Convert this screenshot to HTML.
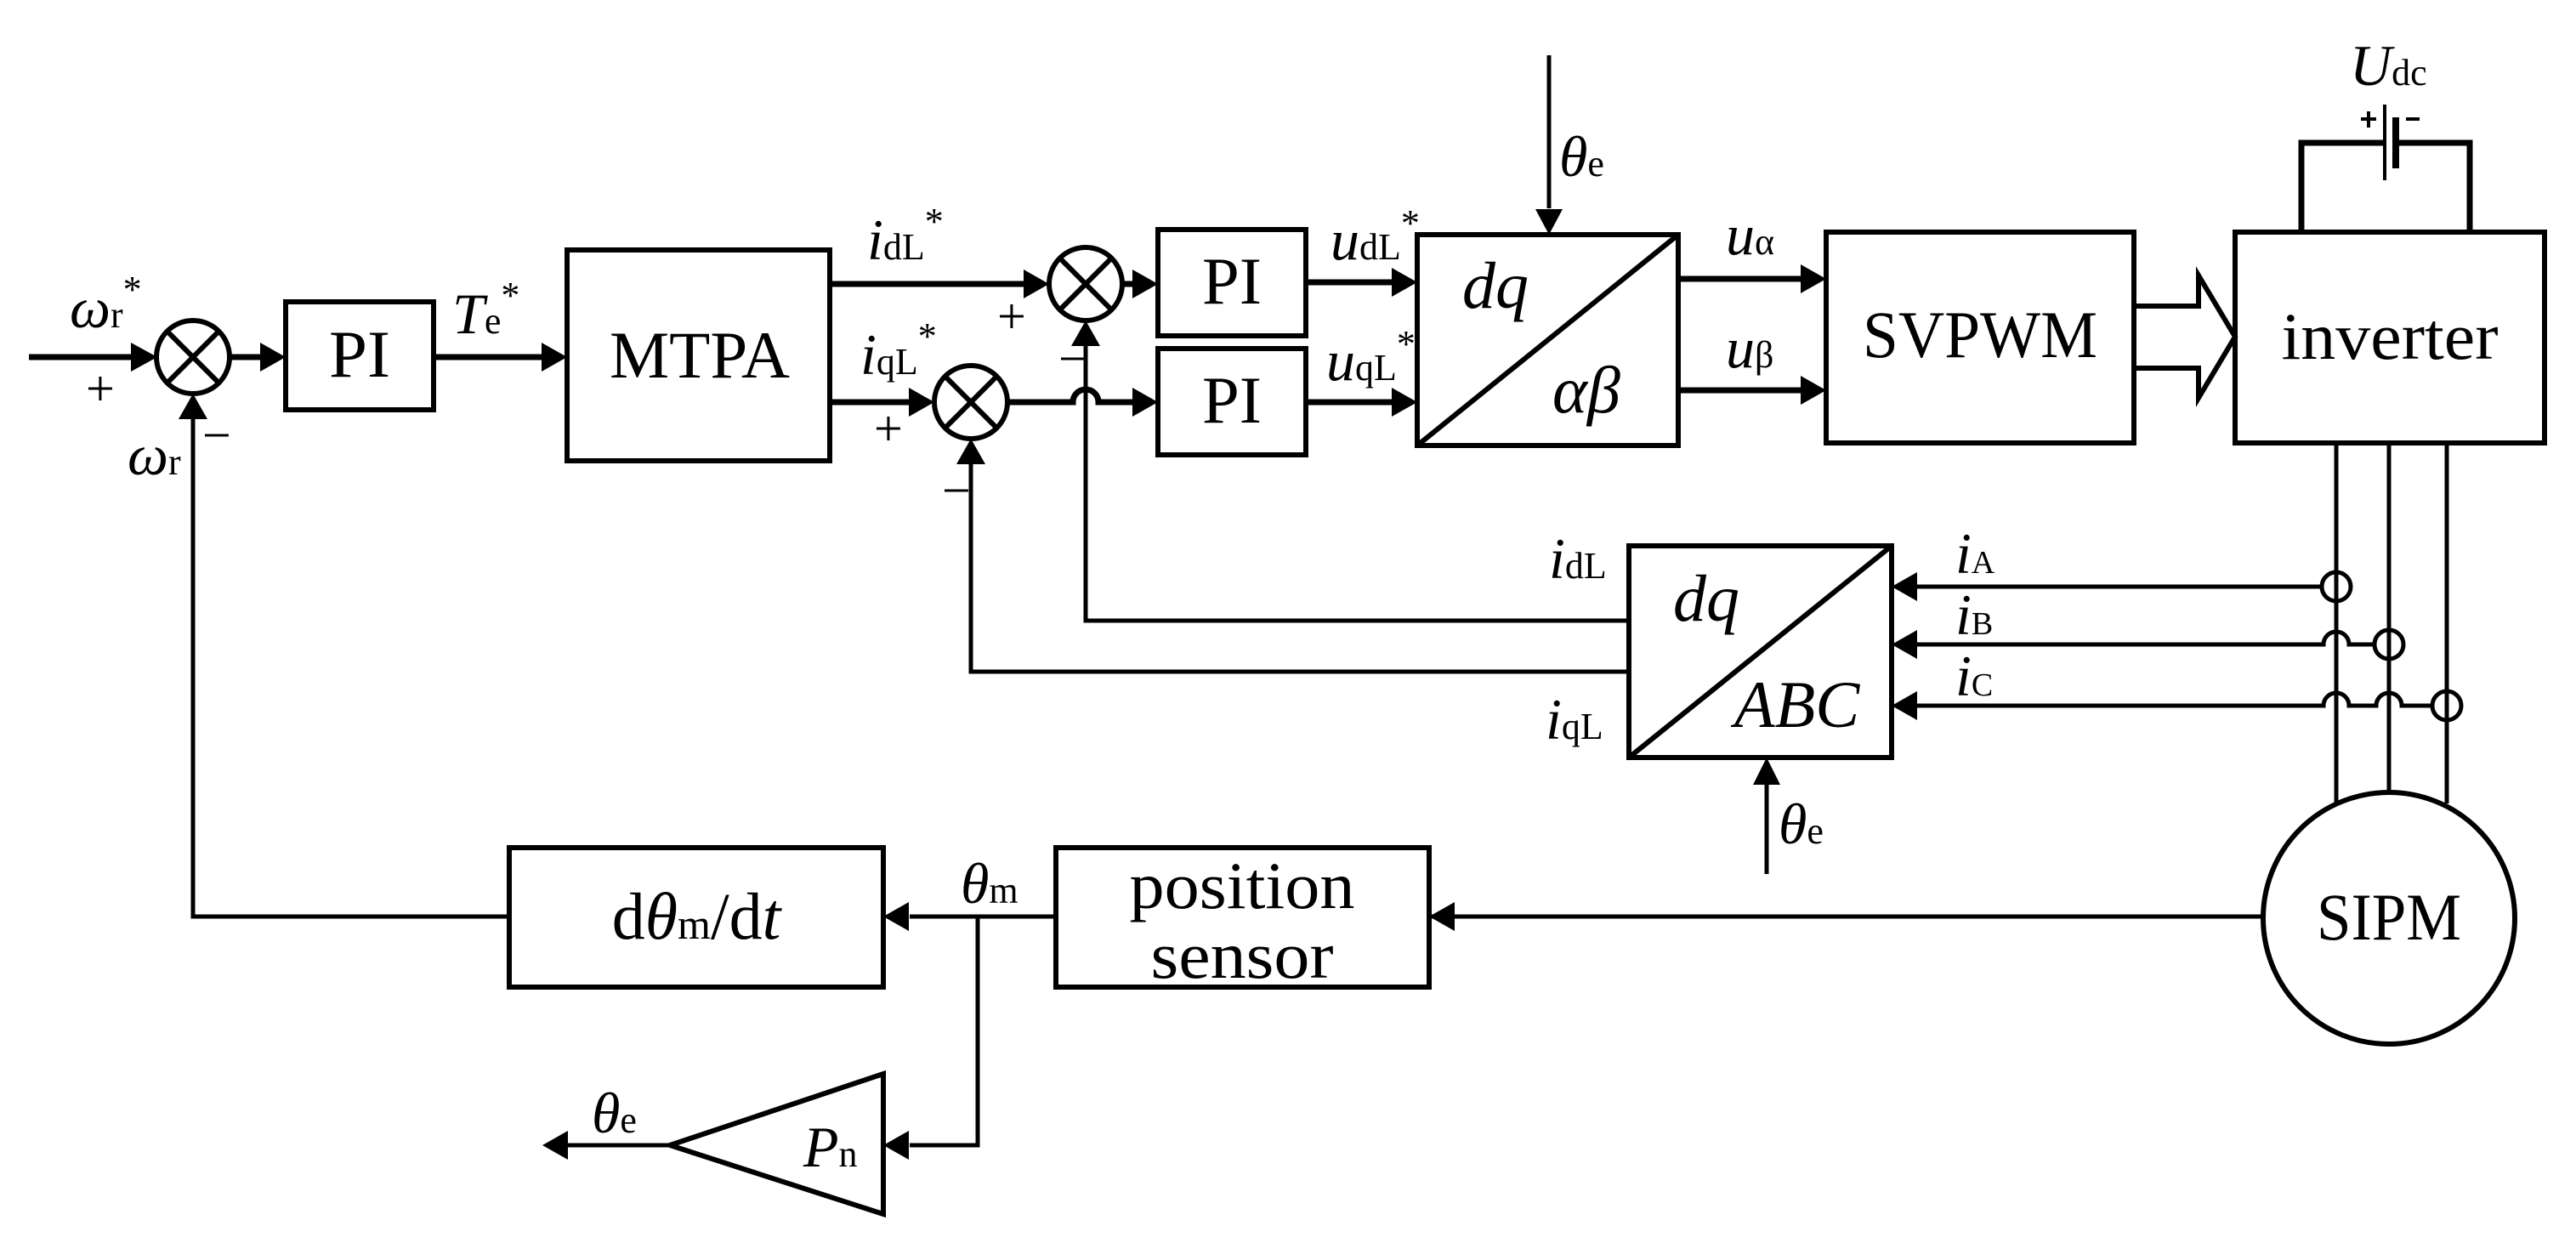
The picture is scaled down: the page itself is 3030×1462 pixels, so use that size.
<!DOCTYPE html>
<html><head><meta charset="utf-8"><style>
html,body{margin:0;padding:0;background:#fff;}
svg{display:block}
text{font-family:"Liberation Serif",serif;fill:#000}
.i{font-style:italic}
</style></head><body>
<svg width="3030" height="1462" viewBox="0 0 3030 1462" xmlns="http://www.w3.org/2000/svg">
<g fill="none" stroke="#000" stroke-width="6">
<rect x="336" y="355" width="174" height="127"/>
<rect x="667" y="294" width="309" height="248"/>
<rect x="1362" y="270" width="174" height="125"/>
<rect x="1362" y="410" width="174" height="125"/>
<rect x="1667" y="276" width="307" height="248"/>
<line x1="1667" y1="524" x2="1974" y2="276"/>
<rect x="2148" y="273" width="362" height="248"/>
<rect x="2629" y="273" width="364" height="248"/>
<rect x="1916" y="642" width="309" height="249"/>
<line x1="1916" y1="891" x2="2225" y2="642"/>
<rect x="599" y="997" width="440" height="164"/>
<rect x="1242" y="997" width="439" height="164"/>
<circle cx="2810" cy="1080" r="148"/>
<polygon points="1039,1263 1039,1428 788,1347"/>
<g>
<circle cx="227" cy="420" r="43"/><line x1="197" y1="390" x2="257" y2="450"/><line x1="257" y1="390" x2="197" y2="450"/>
<circle cx="1277" cy="334" r="43"/><line x1="1247" y1="304" x2="1307" y2="364"/><line x1="1307" y1="304" x2="1247" y2="364"/>
<circle cx="1142" cy="473" r="43"/><line x1="1112" y1="443" x2="1172" y2="503"/><line x1="1172" y1="443" x2="1112" y2="503"/>
</g>
</g>
<g fill="none" stroke="#000" stroke-width="7">
<line x1="34" y1="420" x2="170" y2="420"/>
<line x1="270" y1="420" x2="310" y2="420"/>
<line x1="510" y1="420" x2="640" y2="420"/>
<line x1="976" y1="334" x2="1210" y2="334"/>
<line x1="976" y1="473" x2="1075" y2="473"/>
<line x1="1320" y1="334" x2="1335" y2="334"/>
<path d="M1185 473 H1262 A15 15 0 0 1 1292 473 H1335"/>
<line x1="1536" y1="332" x2="1640" y2="332"/>
<line x1="1536" y1="473" x2="1640" y2="473"/>
<line x1="1974" y1="328" x2="2120" y2="328"/>
<line x1="1974" y1="459" x2="2120" y2="459"/>
<polyline points="2510,360 2586,360 2586,324 2629,396 2586,468 2586,433 2510,433" stroke-width="6"/>
<polyline points="2707,273 2707,168 2805,168"/>
<polyline points="2818,168 2905,168 2905,273"/>
</g>
<g fill="none" stroke="#000" stroke-width="5">
<line x1="1822" y1="65" x2="1822" y2="245"/>
<polyline points="227,470 227,1078 599,1078"/>
<polyline points="1277,390 1277,730 1916,730"/>
<polyline points="1142,530 1142,790 1916,790"/>
<line x1="2078" y1="1028" x2="2078" y2="920"/>
<line x1="1681" y1="1078" x2="2662" y2="1078"/>
<line x1="1242" y1="1078" x2="1070" y2="1078"/>
<polyline points="1150,1078 1150,1347 1070,1347"/>
<line x1="788" y1="1347" x2="665" y2="1347"/>
<line x1="2748" y1="521" x2="2748" y2="945"/>
<line x1="2810" y1="521" x2="2810" y2="932"/>
<line x1="2878" y1="521" x2="2878" y2="945"/>
<line x1="2255" y1="690" x2="2731" y2="690"/>
<path d="M2255 758 H2733 A15 15 0 0 1 2763 758 H2793"/>
<path d="M2255 830 H2733 A15 15 0 0 1 2763 830 H2795 A15 15 0 0 1 2825 830 H2861"/>
<circle cx="2748" cy="690" r="17"/>
<circle cx="2810" cy="758" r="17"/>
<circle cx="2878" cy="830" r="17"/>
<line x1="2805" y1="123" x2="2805" y2="212" stroke-width="4"/>
<line x1="2818" y1="138" x2="2818" y2="198" stroke-width="8"/>
<line x1="2777" y1="140" x2="2795" y2="140" stroke-width="4"/>
<line x1="2786" y1="131" x2="2786" y2="150" stroke-width="4"/>
<line x1="2830" y1="140" x2="2846" y2="140" stroke-width="4"/>
</g>
<g fill="#000">
<polygon points="185,420 154,403 154,437"/>
<polygon points="336,420 306,403 306,437"/>
<polygon points="667,420 637,403 637,437"/>
<polygon points="1234,334 1204,317 1204,351"/>
<polygon points="1362,334 1332,317 1332,351"/>
<polygon points="1099,473 1069,456 1069,490"/>
<polygon points="1362,473 1332,456 1332,490"/>
<polygon points="227,463 210,493 244,493"/>
<polygon points="1277,377 1260,407 1294,407"/>
<polygon points="1142,516 1125,546 1159,546"/>
<polygon points="1667,332 1637,315 1637,349"/>
<polygon points="1667,473 1637,456 1637,490"/>
<polygon points="1822,276 1806,246 1838,246"/>
<polygon points="2148,328 2118,311 2118,345"/>
<polygon points="2148,459 2118,442 2118,476"/>
<polygon points="2225,690 2255,673 2255,707"/>
<polygon points="2225,758 2255,741 2255,775"/>
<polygon points="2225,830 2255,813 2255,847"/>
<polygon points="2078,891 2062,923 2094,923"/>
<polygon points="1681,1078 1711,1061 1711,1095"/>
<polygon points="1039,1078 1069,1061 1069,1095"/>
<polygon points="1039,1347 1069,1330 1069,1364"/>
<polygon points="638,1347 668,1330 668,1364"/>
</g>
<g font-size="78">
<text x="423" y="443" text-anchor="middle" textLength="72" lengthAdjust="spacingAndGlyphs">PI</text>
<text x="823" y="444" text-anchor="middle" textLength="212" lengthAdjust="spacingAndGlyphs">MTPA</text>
<text x="1449" y="357" text-anchor="middle" textLength="70" lengthAdjust="spacingAndGlyphs">PI</text>
<text x="1449" y="497" text-anchor="middle" textLength="70" lengthAdjust="spacingAndGlyphs">PI</text>
<text x="2329" y="420" text-anchor="middle" textLength="276" lengthAdjust="spacingAndGlyphs">SVPWM</text>
<text x="2811" y="422" text-anchor="middle" textLength="255" lengthAdjust="spacingAndGlyphs">inverter</text>
<text x="2810" y="1105" text-anchor="middle" textLength="170" lengthAdjust="spacingAndGlyphs">SIPM</text>
<text x="1461" y="1068" text-anchor="middle" textLength="265" lengthAdjust="spacingAndGlyphs">position</text>
<text x="1461" y="1150" text-anchor="middle" textLength="215" lengthAdjust="spacingAndGlyphs">sensor</text>
<text x="819" y="1104" text-anchor="middle">d<tspan class="i">θ</tspan><tspan font-size="50">m</tspan>/d<tspan class="i">t</tspan></text>
<text x="1720" y="362" class="i">dq</text>
<text x="1826" y="485" class="i">αβ</text>
<text x="1968" y="730" class="i">dq</text>
<text x="2040" y="855" class="i">ABC</text>
</g>
<g font-size="68">
<text x="82" y="385"><tspan class="i">ω</tspan><tspan font-size="44">r</tspan><tspan font-size="44" dy="-30">*</tspan></text>
<text x="150" y="558"><tspan class="i">ω</tspan><tspan font-size="44">r</tspan></text>
<text x="532" y="392"><tspan class="i">T</tspan><tspan font-size="44">e</tspan><tspan font-size="44" dy="-30">*</tspan></text>
<text x="1020" y="305"><tspan class="i">i</tspan><tspan font-size="44">dL</tspan><tspan font-size="44" dy="-30">*</tspan></text>
<text x="1012" y="440"><tspan class="i">i</tspan><tspan font-size="44">qL</tspan><tspan font-size="44" dy="-30">*</tspan></text>
<text x="1565" y="305"><tspan class="i">u</tspan><tspan font-size="44">dL</tspan><tspan font-size="44" dy="-28">*</tspan></text>
<text x="1560" y="447"><tspan class="i">u</tspan><tspan font-size="44">qL</tspan><tspan font-size="44" dy="-28">*</tspan></text>
<text x="2030" y="299"><tspan class="i">u</tspan><tspan font-size="44">α</tspan></text>
<text x="2030" y="432"><tspan class="i">u</tspan><tspan font-size="44">β</tspan></text>
<text x="1834" y="207"><tspan class="i">θ</tspan><tspan font-size="44">e</tspan></text>
<text x="2092" y="992"><tspan class="i">θ</tspan><tspan font-size="44">e</tspan></text>
<text x="1130" y="1062"><tspan class="i">θ</tspan><tspan font-size="44">m</tspan></text>
<text x="696" y="1332"><tspan class="i">θ</tspan><tspan font-size="44">e</tspan></text>
<text x="945" y="1372"><tspan class="i">P</tspan><tspan font-size="44">n</tspan></text>
<text x="2764" y="100"><tspan class="i">U</tspan><tspan font-size="44">dc</tspan></text>
<text x="1822" y="680"><tspan class="i">i</tspan><tspan font-size="44">dL</tspan></text>
<text x="1818" y="869"><tspan class="i">i</tspan><tspan font-size="44">qL</tspan></text>
<text x="2300" y="674"><tspan class="i">i</tspan><tspan font-size="38">A</tspan></text>
<text x="2300" y="746"><tspan class="i">i</tspan><tspan font-size="38">B</tspan></text>
<text x="2300" y="818"><tspan class="i">i</tspan><tspan font-size="38">C</tspan></text>
</g>
<g font-size="60">
<text x="101" y="477">+</text>
<text x="238" y="532">−</text>
<text x="1173" y="392">+</text>
<text x="1245" y="442">−</text>
<text x="1028" y="524">+</text>
<text x="1108" y="597">−</text>
</g>
</svg>
</body></html>
